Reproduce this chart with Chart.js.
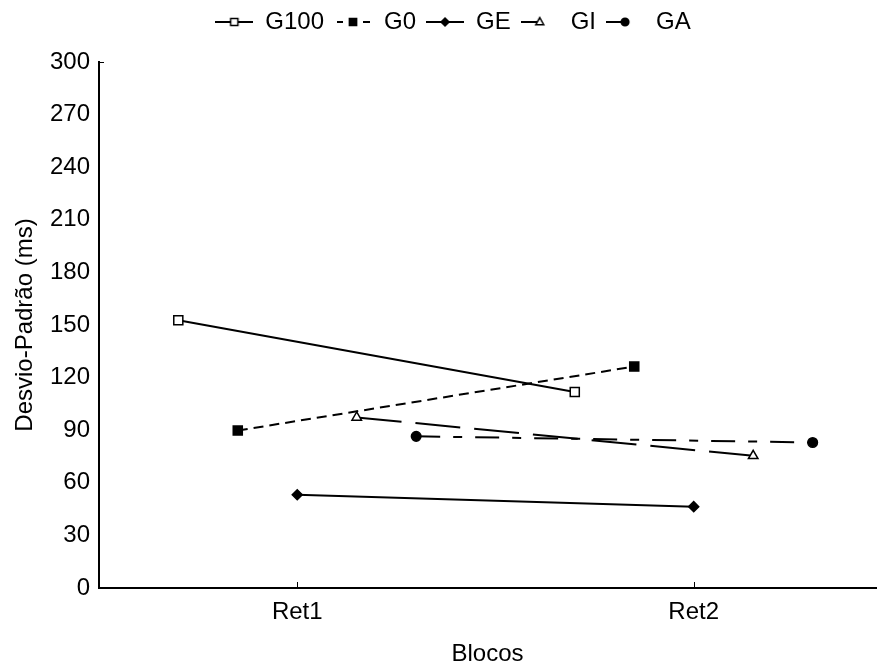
<!DOCTYPE html>
<html>
<head>
<meta charset="utf-8">
<script src="https://cdn.jsdelivr.net/npm/chart.js@4/dist/chart.umd.min.js"></script>
<style>
html,body{margin:0;padding:0;background:#fff;}
#wrap{width:884px;height:666px;position:relative;}
</style>
</head>
<body>
<div id="wrap"><canvas id="c" width="884" height="666"></canvas></div>
<script>
// ---- data ----
const categories = ['Ret1', 'Ret2'];
const seriesNames = ['G100', 'G0', 'GE', 'GI', 'GA'];
const groupOffsets = [-0.3, -0.15, 0, 0.15, 0.3];
const g100 = [152.7, 111.8];
const g0 = [89.8, 126.3];
const ge = [53.2, 46.4];
const gi = [97.3, 75.4];
const ga = [86.5, 83.0];
const yTicks = [0, 30, 60, 90, 120, 150, 180, 210, 240, 270, 300];

const seriesValues = [g100, g0, ge, gi, ga];
const styles = [
  {point: 'rect', fill: '#fff', r: 6.4, dash: [], legendRight: true},
  {point: 'rect', fill: '#000', r: 6.4, dash: [10, 6], legendRight: true},
  {point: 'rectRot', fill: '#000', r: 5, dash: [], legendRight: true},
  {point: 'triangle', fill: '#fff', r: 5.5, dash: [45, 14], legendRight: false},
  {point: 'circle', fill: '#000', r: 4.8, dash: [24, 13, 9, 13], legendRight: false}
];
const FS = 24;
const ICON_W = 38;

function legendIcon(st) {
  const cv = document.createElement('canvas');
  cv.width = ICON_W; cv.height = 16;
  const ctx = cv.getContext('2d');
  ctx.strokeStyle = '#000';
  ctx.lineWidth = 2;
  const cx = ICON_W / 2, cy = 8;
  if (st.dash.length && st.legendRight) {
    ctx.beginPath(); ctx.moveTo(3, cy); ctx.lineTo(9, cy); ctx.stroke();
    ctx.beginPath(); ctx.moveTo(29, cy); ctx.lineTo(36, cy); ctx.stroke();
  } else {
    ctx.beginPath(); ctx.moveTo(0, cy); ctx.lineTo(st.legendRight ? ICON_W : cx, cy); ctx.stroke();
  }
  ctx.lineWidth = 1.5;
  ctx.fillStyle = st.fill;
  ctx.beginPath();
  const r = st.r * 0.8;
  if (st.point === 'rect') { ctx.rect(cx - r * 0.707, cy - r * 0.707, r * 1.414, r * 1.414); }
  else if (st.point === 'rectRot') { ctx.moveTo(cx - r, cy); ctx.lineTo(cx, cy - r); ctx.lineTo(cx + r, cy); ctx.lineTo(cx, cy + r); ctx.closePath(); }
  else if (st.point === 'triangle') { ctx.moveTo(cx, cy - r); ctx.lineTo(cx + r * 0.9, cy + r * 0.6); ctx.lineTo(cx - r * 0.9, cy + r * 0.6); ctx.closePath(); }
  else { ctx.arc(cx, cy, r, 0, Math.PI * 2); }
  ctx.fill(); ctx.stroke();
  return cv;
}

const datasets = seriesNames.map((name, i) => ({
  label: name,
  data: categories.map((c, k) => ({x: k + 1 + groupOffsets[i], y: seriesValues[i][k]})),
  borderColor: '#000',
  borderWidth: 2,
  borderDash: styles[i].dash,
  pointStyle: styles[i].point,
  pointRadius: styles[i].r,
  pointBackgroundColor: styles[i].fill,
  pointBorderColor: '#000',
  pointBorderWidth: 1.5,
  showLine: true,
  fill: false,
  tension: 0
}));

const icons = styles.map(legendIcon);

const legendSpace = {
  id: 'legendSpace',
  beforeLayout(chart) {
    const lg = chart.legend;
    if (lg && !lg._patched) {
      const orig = lg.fit;
      lg.fit = function () { orig.call(this); this.height += 18; };
      lg._patched = true;
    }
  },
  afterLayout(chart) {
    if (chart.legend) { chart.legend.left += 26; }
  }
};

const tickPlugin = {
  id: 'axisTicks',
  afterDraw(chart) {
    const ctx = chart.ctx;
    const xs = chart.scales.x, ys = chart.scales.y;
    ctx.save();
    ctx.strokeStyle = '#000';
    ctx.lineWidth = 1;
    const yb = ys.getPixelForValue(0);
    categories.forEach((c, k) => {
      const px = Math.round(xs.getPixelForValue(k + 1)) + 0.5;
      ctx.beginPath(); ctx.moveTo(px, yb); ctx.lineTo(px, yb - 6); ctx.stroke();
    });
    const yt = Math.round(ys.getPixelForValue(300)) + 0.5;
    const xl = xs.getPixelForValue(xs.min);
    ctx.beginPath(); ctx.moveTo(xl, yt); ctx.lineTo(xl + 5, yt); ctx.stroke();
    ctx.restore();
  }
};

Chart.defaults.font.family = '"Liberation Sans", Arial, sans-serif';
Chart.defaults.color = '#000';

new Chart(document.getElementById('c'), {
  type: 'scatter',
  data: {datasets},
  options: {
    responsive: false,
    animation: false,
    layout: {padding: {left: 0, right: 4, top: 0, bottom: 0}},
    plugins: {
      tooltip: {enabled: false},
      legend: {
        position: 'top',
        labels: {
          usePointStyle: true,
          pointStyleWidth: ICON_W,
          padding: 10,
          font: {size: FS, lineHeight: 1},
          color: '#000',
          generateLabels(chart) {
            return chart.data.datasets.map((ds, i) => ({
              text: ds.label,
              pointStyle: icons[i],
              fillStyle: '#000',
              strokeStyle: '#000',
              lineWidth: 0,
              hidden: false,
              datasetIndex: i,
              fontColor: '#000'
            }));
          }
        }
      }
    },
    scales: {
      x: {
        type: 'linear',
        min: 0.5,
        max: 2.46,
        afterBuildTicks(scale) { scale.ticks = categories.map((c, k) => ({value: k + 1})); },
        afterFit(scale) { scale.height = 78; },
        ticks: {
          callback: (v) => categories[Math.round(v) - 1] || '',
          font: {size: FS, lineHeight: 1},
          color: '#000',
          padding: 12,
          maxRotation: 0,
          autoSkip: false
        },
        grid: {display: false, drawTicks: false},
        border: {display: true, color: '#000', width: 2},
        title: {display: true, text: 'Blocos', font: {size: FS, lineHeight: 1}, color: '#000', padding: {top: 0, bottom: 0}}
      },
      y: {
        min: 0,
        max: 300,
        afterBuildTicks(scale) { scale.ticks = yTicks.map(v => ({value: v})); },
        afterFit(scale) { scale.width = 99; },
        ticks: {font: {size: FS, lineHeight: 1}, color: '#000', padding: 9},
        grid: {display: false, drawTicks: false},
        border: {display: true, color: '#000', width: 2},
        title: {display: true, text: 'Desvio-Padrão (ms)', font: {size: FS, lineHeight: 1}, color: '#000', padding: {top: 13, bottom: 0}}
      }
    }
  },
  plugins: [legendSpace, tickPlugin]
});
</script>
</body>
</html>
